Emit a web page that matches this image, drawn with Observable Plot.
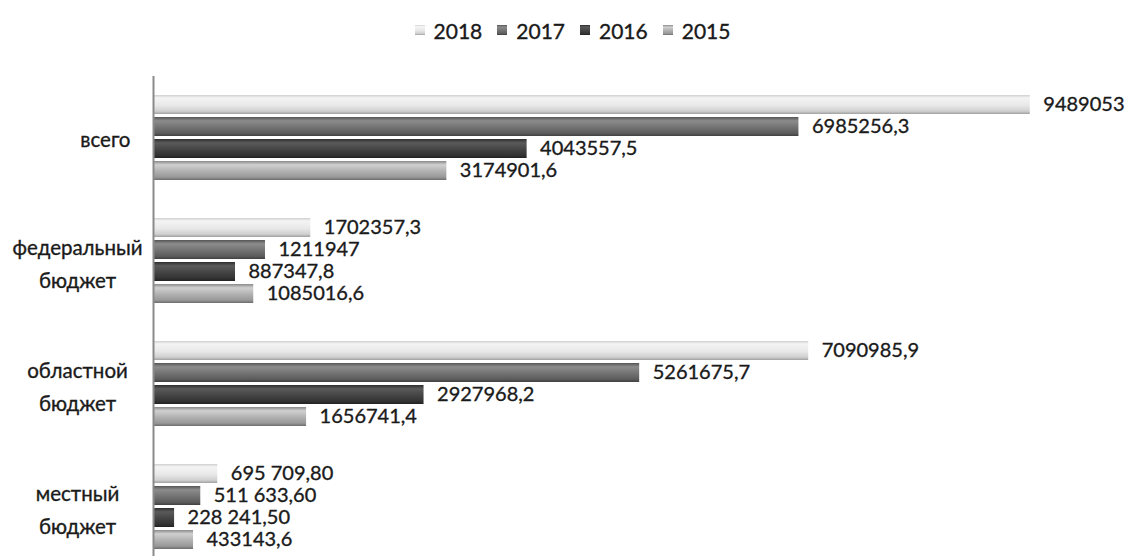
<!DOCTYPE html>
<html><head><meta charset="utf-8">
<script src="https://cdn.jsdelivr.net/npm/d3@7"></script>
<script src="https://cdn.jsdelivr.net/npm/@observablehq/plot@0.6"></script>
<style>
body{margin:0;background:#fff;overflow:hidden;font-family:Lato,"Open Sans",sans-serif;color:#1a1a1a}
#legend{height:60px;display:flex;justify-content:center;align-items:center;gap:15px;font-size:21px;padding-left:14px;box-sizing:border-box;-webkit-text-stroke:0.35px #1a1a1a}
#legend .it{display:flex;align-items:center;gap:9px}
#legend .sw{width:10px;height:10px;display:inline-block}
svg text{paint-order:stroke;stroke:#1a1a1a;stroke-width:0.35px}
</style>
</head><body>
<div id="legend"></div>
<div id="chart"></div>
<script>
const categories = ["всего", "федеральный бюджет", "областной бюджет", "местный бюджет"];
const years = ["2018", "2017", "2016", "2015"];
const values2018 = [9489053, 1702357.3, 7090985.9, 695709.80];
const values2017 = [6985256.3, 1211947, 5261675.7, 511633.60];
const values2016 = [4043557.5, 887347.8, 2927968.2, 228241.50];
const values2015 = [3174901.6, 1085016.6, 1656741.4, 433143.6];
const labels2018 = ["9489053", "1702357,3", "7090985,9", "695 709,80"];
const labels2017 = ["6985256,3", "1211947", "5261675,7", "511 633,60"];
const labels2016 = ["4043557,5", "887347,8", "2927968,2", "228 241,50"];
const labels2015 = ["3174901,6", "1085016,6", "1656741,4", "433143,6"];

const seriesValues = {"2018": values2018, "2017": values2017, "2016": values2016, "2015": values2015};
const seriesLabels = {"2018": labels2018, "2017": labels2017, "2016": labels2016, "2015": labels2015};
const data = [];
categories.forEach((c, i) => years.forEach(y => data.push({category: c, year: y, value: seriesValues[y][i], label: seriesLabels[y][i]})));

const grads = {
  "2018": [[0,"#cfcfcf"],[0.15,"#f4f4f4"],[0.55,"#e8e8e8"],[0.85,"#d0d0d0"],[1,"#a0a0a0"]],
  "2017": [[0,"#555"],[0.2,"#8c8c8c"],[0.55,"#727272"],[0.85,"#5c5c5c"],[1,"#404040"]],
  "2016": [[0,"#2e2e2e"],[0.2,"#5a5a5a"],[0.55,"#444"],[0.85,"#333"],[1,"#222"]],
  "2015": [[0,"#8a8a8a"],[0.2,"#d0d0d0"],[0.55,"#b0b0b0"],[0.85,"#989898"],[1,"#6c6c6c"]]
};

const multi = categories.filter(c => c.includes(" "));
const single = categories.filter(c => !c.includes(" "));

const chart = Plot.plot({
  width: 1131, height: 508,
  marginTop: 15, marginBottom: 0, marginLeft: 153, marginRight: 54,
  style: {fontFamily: "Lato, 'Open Sans', sans-serif", color: "#1a1a1a", background: "#fff"},
  x: {domain: [0, 10000000], axis: null},
  fy: {domain: categories, padding: 0, axis: null},
  y: {domain: years, paddingInner: 0.15, paddingOuter: 0.83, axis: null},
  color: {domain: years, range: years.map(y => `url(#g${y})`)},
  marks: [
    Plot.barX(data, {fy: "category", y: "year", x: "value", fill: "year", ariaLabel: "bars"}),
    Plot.text(data, {fy: "category", y: "year", x: "value", text: "label", textAnchor: "start", dx: 13, fontSize: 20, fill: "#1a1a1a"}),
    Plot.text(single, {fy: d => d, text: d => d, frameAnchor: "left", textAnchor: "end", dx: -23, dy: 2, fontSize: 20.5, fill: "#1a1a1a"}),
    Plot.text(multi, {fy: d => d, text: d => d.replace(" ", "\n"), frameAnchor: "left", textAnchor: "middle", dx: -76, fontSize: 20.5, lineHeight: 1.6, fill: "#1a1a1a"}),
    Plot.ruleX([0], {stroke: "#8a8a8a", strokeWidth: 2})
  ]
});
document.getElementById("chart").appendChild(chart);

const svg = d3.select(chart);
const defs = svg.insert("defs", ":first-child");
years.forEach(y => {
  const g = defs.append("linearGradient").attr("id", "g" + y).attr("x1", 0).attr("y1", 0).attr("x2", 0).attr("y2", 1);
  grads[y].forEach(([o, c]) => g.append("stop").attr("offset", o).attr("stop-color", c));
});
const f = defs.append("filter").attr("id", "shadow").attr("x", "-5%").attr("y", "-30%").attr("width", "115%").attr("height", "190%");
f.append("feDropShadow").attr("dx", 2).attr("dy", 3).attr("stdDeviation", 2).attr("flood-color", "#000").attr("flood-opacity", 0.35);
svg.selectAll('g[aria-label="bars"] rect').attr("filter", "url(#shadow)");

const legend = d3.select("#legend");
years.forEach(y => {
  const it = legend.append("div").attr("class", "it");
  const sw = it.append("svg").attr("width", 10).attr("height", 10).style("stroke", "none");
  const lg = sw.append("defs").append("linearGradient").attr("id", "lg" + y).attr("x1", 0).attr("y1", 0).attr("x2", 0).attr("y2", 1);
  grads[y].forEach(([o, c]) => lg.append("stop").attr("offset", o).attr("stop-color", c));
  sw.append("rect").attr("width", 10).attr("height", 10).attr("fill", `url(#lg${y})`);
  it.append("span").text(y);
});
</script>
</body></html>
